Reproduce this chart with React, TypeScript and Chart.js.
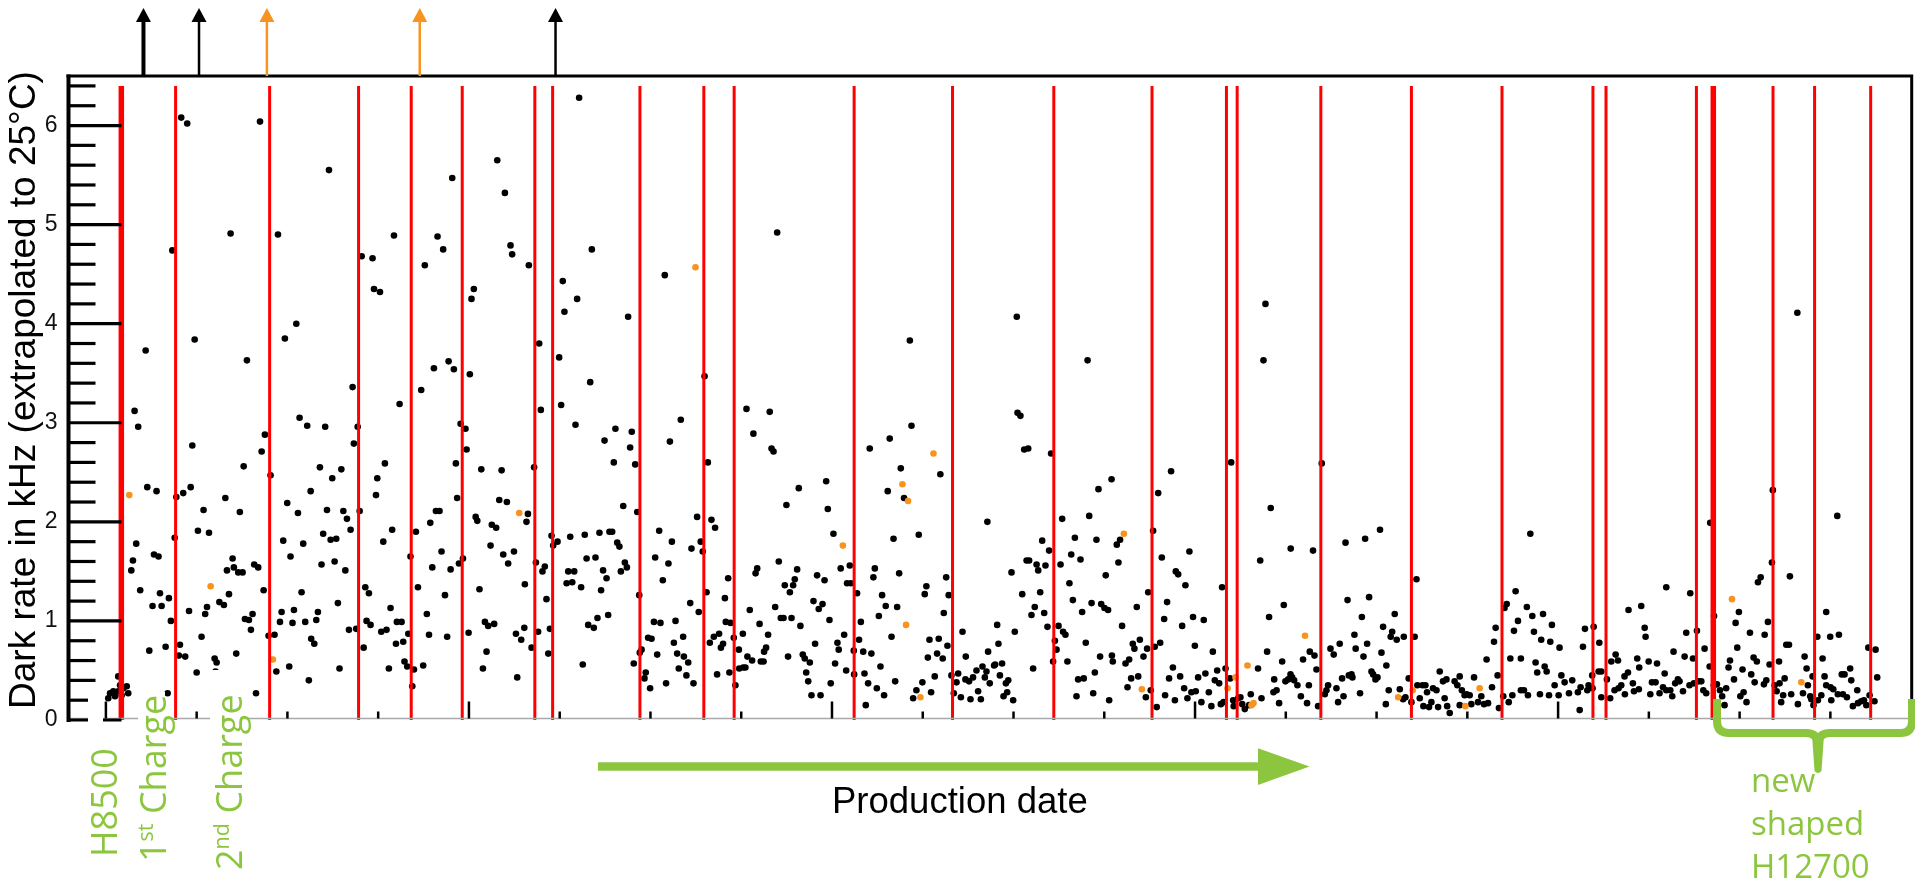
import { useEffect, useRef } from 'react';
import { Chart, registerables } from 'chart.js';

Chart.register(...registerables);

// ---------- data (x: production order index, y: dark rate in kHz) ----------
const BLACK_POINTS: [number, number][] = [
  [41.5,6.08],[44.8,6.02],[84.9,6.04],[122.9,5.55],[215.6,5.65],[219.8,5.32],[190.8,5.47],[68.7,4.91],[94.8,4.90],[158.7,4.89],[182.7,4.88],[185.8,4.75],[36.6,4.74],[140.9,4.68],[146.9,4.66],[175.7,4.59],[222.9,4.79],[223.8,4.70],[233.0,4.59],[147.7,4.35],[151.0,4.32],[202.7,4.35],[201.4,4.25],[104.9,4.00],[98.6,3.85],[48.9,3.84],[21.9,3.73],[77.7,3.63],[188.8,3.62],[191.7,3.54],[180.7,3.55],[200.5,3.49],[135.9,3.36],[173.7,3.33],[161.8,3.19],[15.8,3.12],[17.8,2.96],[106.7,3.05],[110.9,2.97],[120.8,2.96],[138.7,2.96],[195.4,2.99],[198.1,2.94],[87.6,2.88],[136.6,2.79],[47.6,2.77],[85.8,2.71],[198.7,2.73],[75.9,2.56],[117.9,2.55],[129.7,2.53],[153.7,2.59],[192.8,2.59],[90.7,2.47],[124.7,2.44],[149.5,2.44],[206.8,2.53],[218.0,2.52],
  [22.8,2.35],[27.9,2.31],[38.8,2.25],[42.6,2.29],[46.7,2.35],[65.8,2.24],[112.8,2.31],[148.8,2.27],[193.5,2.24],[216.7,2.22],[220.9,2.20],[53.8,2.12],[73.8,2.10],[99.9,2.19],[105.8,2.09],[121.8,2.12],[130.8,2.11],[132.8,2.03],[139.8,2.11],[181.8,2.11],[183.8,2.11],[203.7,2.05],[204.6,2.01],[232.5,2.08],[231.7,2.00],
  [50.7,1.91],[56.8,1.89],[134.8,1.92],[157.7,1.92],[170.8,1.90],[178.7,1.99],[212.6,1.97],[215.0,1.94],[16.7,1.78],[37.9,1.84],[97.7,1.81],[108.7,1.78],[119.7,1.88],[123.8,1.82],[126.9,1.83],[152.8,1.80],[211.9,1.76],
  [14.9,1.61],[26.5,1.67],[29.0,1.65],[69.8,1.63],[101.7,1.65],[126.0,1.60],[184.9,1.70],[167.8,1.65],[196.7,1.63],[218.9,1.67],[224.8,1.70],[221.6,1.58],[14.0,1.51],[66.7,1.51],[70.5,1.54],[72.9,1.49],[75.3,1.49],[81.7,1.57],[83.9,1.54],[118.8,1.57],[131.9,1.51],[179.8,1.54],[189.9,1.52],[194.5,1.58],
  [18.9,1.31],[29.8,1.28],[34.7,1.23],[25.7,1.15],[30.7,1.15],[62.5,1.19],[65.0,1.16],[67.8,1.27],[86.9,1.31],[107.8,1.29],[127.8,1.18],[142.9,1.34],[144.9,1.28],[171.9,1.34],[186.8,1.26],[205.8,1.32],[230.8,1.37],
  [45.8,1.10],[55.7,1.14],[54.7,1.07],[35.8,1.00],[76.6,1.02],[78.8,1.01],[80.8,1.07],[96.8,1.09],[95.9,0.99],[103.6,1.11],[102.8,0.98],[109.8,0.99],[115.9,1.01],[116.8,1.09],[143.6,1.00],[145.8,0.96],[156.8,1.13],[160.3,0.99],[162.9,0.99],[176.8,1.07],[208.8,0.99],[210.6,0.95],[213.9,0.97],
  [23.9,0.70],[32.9,0.74],[40.8,0.76],[40.2,0.65],[43.7,0.64],[52.7,0.84],[79.9,0.91],[89.6,0.85],[92.9,0.86],[113.1,0.82],[114.8,0.77],[133.9,0.91],[137.9,0.92],[151.7,0.89],[154.6,0.91],[159.8,0.77],[163.8,0.79],[166.6,0.87],[178.0,0.86],[188.0,0.84],[199.8,0.88],[225.9,0.87],[228.8,0.81],[230.5,0.93],[142.0,0.73],[209.7,0.69],
  [50.0,0.48],[59.9,0.62],[61.0,0.58],[71.8,0.67],[93.9,0.49],[101.0,0.54],[111.8,0.40],[128.7,0.52],[155.9,0.52],[164.5,0.59],[166.0,0.54],[169.7,0.51],[174.8,0.55],[207.7,0.52],[226.6,0.43],[168.8,0.34],[34.0,0.27],[82.7,0.27],[60.4,0.49],
  [6.8,0.44],[2.3,0.27],[4.1,0.29],[6.8,0.29],[9.6,0.32],[11.5,0.34],[12.3,0.27],[8.7,0.25],[1.3,0.22],[5.0,0.24],[7.8,0.35],
  [260.7,6.28],[238.7,3.80],[239.6,3.13],[235.9,2.55],[267.7,4.75],[251.7,4.43],[259.6,4.25],[252.6,4.12],[287.7,4.07],[249.7,3.66],[266.8,3.41],[250.8,3.18],[258.7,2.98],[280.7,2.94],[274.7,2.82],[289.7,2.91],[288.8,2.75],[279.8,2.60],[291.6,2.58],[307.9,4.49],[316.7,3.03],[310.7,2.81],[329.8,3.47],[331.6,2.60],[369.8,4.92],[442.9,3.83],[352.9,3.14],[365.7,3.11],[356.7,2.89],[366.7,2.74],[367.8,2.71],[443.8,2.97],[431.8,2.84],[420.8,2.74],[437.9,2.54],[459.7,2.48],[396.8,2.41],[381.7,2.34],[430.7,2.31],[439.7,2.24],[374.9,2.17],[397.7,2.13],[485.6,2.00],[400.8,1.88],[433.9,1.83],[447.8,1.87],
  [285.0,2.16],[292.7,2.10],[304.8,1.91],[311.8,1.80],[325.7,2.05],[333.6,2.02],[335.6,1.94],[327.7,1.80],[322.6,1.73],[328.8,1.70],
  [245.5,1.86],[248.8,1.80],[246.4,1.76],[255.8,1.85],[263.8,1.87],[271.9,1.89],[277.4,1.90],[278.9,1.90],[281.7,1.79],[282.9,1.75],[236.9,1.59],[241.8,1.55],[240.5,1.50],[264.8,1.63],[269.7,1.64],[273.9,1.51],[275.8,1.43],[254.7,1.50],[258.0,1.50],[253.8,1.38],[256.9,1.39],[261.8,1.34],[272.8,1.31],[285.9,1.59],[287.0,1.54],[283.7,1.50],[242.7,1.22],[302.6,1.64],[309.9,1.58],[306.8,1.41],[293.8,1.26],[321.9,1.18],[326.6,1.09],[330.9,1.29],[341.0,1.23],[342.8,1.43],[370.7,1.60],[358.8,1.53],[357.9,1.48],[380.8,1.52],[379.5,1.42],[374.0,1.36],[378.6,1.36],[376.8,1.29],[391.8,1.46],[395.9,1.41],[404.8,1.53],[409.8,1.56],[408.3,1.38],[410.4,1.38],[423.6,1.53],[422.8,1.44],[437.0,1.48],[413.8,1.28],[427.6,1.26],[429.6,1.15],[435.9,1.14],[452.0,1.35],[451.1,1.27],[462.9,1.44],[464.3,1.26],[461.6,1.08],[389.8,1.20],[394.8,1.17],[392.7,1.12],[368.7,1.14],[354.7,1.11],[371.8,1.03],[373.3,1.03],[377.7,1.03],[382.6,0.95],[398.6,1.01],
  [265.7,0.96],[268.8,0.93],[270.8,1.03],[276.7,1.06],[238.1,0.89],[244.6,0.92],[234.5,0.73],[243.7,0.67],[262.7,0.56],[290.8,0.57],[295.1,0.71],[294.1,0.68],[301.9,0.99],[305.5,0.98],[313.8,1.00],[298.7,0.83],[300.6,0.82],[303.7,0.66],[312.9,0.78],[318.0,0.84],[314.7,0.67],[318.4,0.64],[320.8,0.58],[315.6,0.52],[319.8,0.45],[323.7,0.37],[308.6,0.37],[299.8,0.32],[297.4,0.48],[296.7,0.42],[332.7,0.78],[334.9,0.84],[337.8,0.87],[338.8,0.73],[340.0,0.77],[341.5,0.99],[344.1,0.98],[345.9,0.83],[336.7,0.46],[343.5,0.48],[346.8,0.35],[348.7,0.71],[350.9,0.87],[348.9,0.52],[351.1,0.53],[352.3,0.53],[353.4,0.64],[356.0,0.60],[360.1,0.97],[360.8,0.59],[362.3,0.59],[362.6,0.69],[363.7,0.73],[364.8,0.86],[375.8,0.64],[383.9,0.66],[385.0,0.62],[387.8,0.58],[385.8,0.48],[386.9,0.39],[390.7,0.77],[388.7,0.25],[393.7,0.25],[399.3,0.37],[401.7,0.57],[403.0,0.78],[403.7,0.71],[406.7,0.86],[407.8,0.50],[412.0,0.70],[412.2,0.46],[414.9,0.81],[415.9,0.99],[417.2,0.69],[417.9,0.47],[419.9,0.37],[421.7,0.67],[424.7,0.32],[426.7,0.54],[428.7,0.25],[425.8,1.05],[432.8,0.84],[434.8,0.39],[444.7,0.22],[446.5,0.30],[449.8,0.38],[452.8,0.63],[453.7,0.81],[454.6,0.28],[456.6,0.44],[457.9,0.67],[458.8,0.82],[461.0,0.62],[463.6,0.75],[465.8,0.45],[467.1,0.27],[468.6,0.38],[469.5,0.47],[471.0,0.23],[471.9,0.89],[473.7,0.64],[473.5,0.41],[475.5,0.39],[477.7,0.43],[479.6,0.50],[480.5,0.29],[476.3,0.21],[482.0,0.21],[482.9,0.54],[484.2,0.43],[486.0,0.69],[486.9,0.37],[418.6,0.15],
  [501.8,4.07],[540.8,3.63],[502.2,3.10],[503.8,3.07],[505.9,2.73],[508.1,2.74],[520.7,2.69],[619.9,2.60],[586.8,2.51],[669.8,2.59],[638.8,4.20],[637.7,3.63],[641.7,2.14],[526.8,2.03],[546.8,2.33],[554.0,2.43],[541.7,2.06],[579.7,2.29],[576.9,1.91],[558.7,1.82],[556.9,1.77],[557.8,1.59],[545.7,1.82],[533.8,1.84],[515.8,1.81],[519.6,1.71],[531.8,1.67],[536.9,1.62],[525.9,1.57],[517.6,1.56],[512.7,1.57],[513.6,1.51],[507.2,1.61],[508.6,1.61],[498.9,1.49],[550.8,1.46],[581.7,1.64],[596.9,1.70],[589.4,1.50],[590.7,1.47],[594.7,1.36],[614.9,1.34],[652.7,1.73],[665.0,1.71],[682.9,1.79],[693.7,1.83],[701.9,1.92],[635.9,1.61],[722.0,1.42],[530.8,1.38],[504.8,1.27],[514.7,1.29],[532.7,1.21],[537.8,1.09],[543.0,1.18],[548.3,1.17],[550.1,1.13],[552.1,1.11],[574.2,1.29],[584.6,1.19],[567.9,1.14],[511.7,1.14],[516.9,1.08],[509.9,1.06],[518.7,0.94],[524.8,0.95],[527.3,0.89],[528.6,0.86],[491.0,0.96],[500.7,0.89],[559.8,0.95],[583.0,1.02],[592.9,0.95],[598.9,1.04],[604.8,1.01],[640.8,1.04],[648.9,1.16],[684.0,1.21],[695.9,1.24],[691.9,1.04],[710.0,1.07],[703.6,0.94],[708.6,0.89],[707.8,0.84],[711.1,0.81],[715.0,0.84],[721.0,0.84],[687.8,0.86],[679.7,0.77],[674.6,0.72],[676.4,0.66],[688.5,0.72],[694.8,0.77],[692.8,0.64],[702.7,0.68],[663.2,0.69],[665.8,0.65],[659.5,0.61],[648.0,0.59],[639.7,0.69],[609.8,0.69],[599.9,0.75],[580.8,0.78],[577.8,0.74],[573.6,0.72],[571.6,0.64],[565.7,0.77],[566.6,0.72],[569.6,0.81],[563.7,0.61],[561.7,0.57],[554.7,0.59],[554.2,0.65],[547.7,0.64],[539.8,0.78],[529.7,0.59],[523.7,0.71],[522.8,0.80],[521.8,0.59],[491.7,0.77],[489.3,0.55],[493.7,0.57],[489.9,0.56],[485.1,0.49],[492.5,0.45],[497.1,0.40],[495.8,0.37],[496.5,0.28],[494.5,0.24],[499.8,0.20],[510.8,0.52],[544.8,0.48],[535.6,0.41],[538.7,0.42],[534.7,0.24],[543.9,0.27],[552.7,0.20],[562.8,0.33],[564.8,0.42],[568.7,0.44],[572.9,0.23],[575.6,0.30],[578.9,0.13],[583.5,0.25],[585.7,0.42],[587.8,0.53],[588.9,0.20],[591.8,0.44],[594.0,0.32],[595.8,0.22],[598.0,0.28],[600.4,0.29],[601.7,0.43],[603.5,0.18],[605.7,0.47],[607.6,0.28],[609.0,0.14],[610.9,0.40],[612.2,0.50],[613.3,0.37],[614.2,0.16],[615.7,0.18],[616.8,0.52],[619.3,0.42],[621.0,0.20],[621.3,0.14],[623.7,0.22],[625.0,0.23],[626.0,0.16],[627.4,0.11],[629.8,0.15],[630.7,0.26],[634.7,0.52],[636.6,0.22],[643.6,0.41],[643.2,0.28],[644.9,0.30],[646.3,0.17],[651.3,0.41],[649.8,0.39],[652.6,0.46],[653.5,0.43],[654.6,0.40],[656.4,0.35],[658.3,0.24],[661.7,0.17],[662.7,0.35],[666.9,0.51],[667.8,0.14],[671.5,0.26],[673.3,0.35],[672.4,0.30],[677.9,0.32],[678.8,0.18],[681.0,0.42],[681.8,0.24],[684.7,0.45],[686.7,0.43],[686.2,0.46],[690.9,0.27],[698.1,0.46],[697.2,0.49],[699.4,0.41],[700.5,0.43],[705.4,0.55],[706.7,0.30],[705.1,0.16],[712.8,0.31],[714.6,0.21],[715.9,0.23],[717.7,0.42],[719.2,0.18],[722.5,0.35],[725.3,0.35],[726.9,0.35],[723.8,0.22],[727.8,0.28],[730.2,0.18],[731.1,0.32],[733.0,0.30],[725.8,0.14],[728.9,0.13],[733.9,0.13],[734.8,0.49],[736.6,0.39],[738.5,0.41],[738.9,0.14],
  [931.8,4.11],[784.7,1.88],[953.8,2.06],[918.3,2.32],[883.8,1.99],[917.8,1.59],[927.7,1.45],[910.1,1.39],[911.6,1.44],[859.6,1.34],[872.8,1.28],[845.8,1.15],[838.8,1.11],[776.6,1.30],[771.7,1.17],[770.5,1.13],[782.8,1.14],[785.8,1.05],[791.7,1.07],[796.6,0.96],[777.9,1.00],[775.7,0.90],[786.7,0.89],[790.7,0.81],[795.7,0.79],[800.8,0.73],[765.6,0.93],[764.7,0.79],[760.6,0.61],[773.7,0.62],[779.5,0.62],[787.6,0.58],[792.6,0.54],[793.7,0.49],[788.5,0.48],[814.8,0.92],[819.6,0.94],[813.7,0.74],[822.7,0.78],[899.6,1.09],[897.8,0.98],[915.6,0.99],[913.8,0.86],[905.7,0.88],[898.7,0.73],[894.7,0.60],[893.9,0.53],[901.6,0.51],[906.4,0.46],[907.7,0.63],[909.5,0.59],[914.7,0.40],[921.7,0.59],[916.5,0.56],[924.8,0.42],[925.7,0.76],[927.2,0.76],[947.7,1.09],[942.8,0.84],[949.9,0.84],[954.7,0.86],[945.7,0.62],[935.8,0.64],[936.9,0.52],[940.2,0.44],[946.8,0.44],[956.3,0.46],[957.8,0.46],[960.9,0.52],[961.5,0.40],[970.9,0.73],[974.9,0.71],[975.8,0.43],[870.6,0.88],[876.5,0.90],[880.7,0.72],[869.7,0.64],[874.3,0.62],[883.5,0.54],[885.9,1.05],[863.6,0.69],[858.7,0.47],[849.9,0.59],[854.5,0.57],[847.7,0.93],[848.2,0.84],[843.6,0.62],[844.7,0.53],[838.5,0.48],[836.6,0.44],[834.8,0.35],[831.7,0.66],[833.0,0.60],[829.3,0.59],[826.9,0.41],[822.3,0.49],[823.8,0.49],[818.8,0.45],[816.8,0.35],[812.4,0.33],[807.8,0.40],[803.6,0.38],[801.8,0.45],[798.1,0.35],[806.0,0.27],[800.3,0.25],[795.0,0.25],[790.0,0.26],[783.4,0.25],[781.2,0.30],[779.5,0.30],[774.8,0.25],[772.8,0.18],[769.8,0.24],[763.6,0.33],[766.7,0.45],[767.4,0.12],[761.4,0.17],[759.2,0.16],[755.9,0.18],[753.7,0.43],[749.6,0.26],[745.8,0.44],[744.5,0.35],[743.0,0.39],[737.5,0.22],[747.0,0.30],[748.5,0.25],[751.3,0.25],[752.2,0.16],[757.7,0.24],[745.8,0.15],[740.3,0.07],[810.9,0.28],[811.9,0.10],[816.1,0.30],[819.0,0.32],[823.8,0.23],[828.7,0.22],[831.1,0.30],[833.3,0.32],[836.8,0.26],[841.8,0.29],[841.2,0.37],[844.5,0.31],[850.8,0.26],[851.7,0.38],[853.7,0.38],[855.9,0.27],[857.8,0.33],[859.6,0.30],[861.8,0.30],[862.9,0.24],[864.5,0.37],[866.0,0.41],[866.9,0.39],[868.8,0.29],[872.4,0.35],[874.8,0.37],[877.4,0.39],[878.9,0.39],[880.0,0.30],[881.6,0.27],[885.8,0.35],[887.5,0.36],[889.2,0.30],[890.4,0.24],[891.7,0.15],[892.6,0.32],[896.9,0.41],[900.4,0.24],[902.2,0.28],[903.8,0.18],[908.3,0.38],[913.4,0.36],[919.3,0.35],[920.4,0.29],[922.9,0.18],[924.0,0.25],[928.4,0.26],[932.1,0.16],[934.9,0.27],[937.6,0.35],[938.9,0.24],[940.7,0.15],[943.1,0.20],[945.0,0.25],[947.7,0.35],[950.1,0.33],[951.6,0.31],[950.5,0.20],[954.1,0.26],[956.9,0.26],[959.1,0.23],[962.4,0.14],[964.8,0.30],[965.2,0.17],[967.0,0.19],[968.5,0.20],[969.8,0.15],[971.6,0.25],[974.3,0.19],[922.0,0.37],[939.5,0.21],
];

const ORANGE_POINTS: [number, number][] = [
  [12.9,2.27],[227.7,2.09],[57.7,1.35],[92.0,0.61],[324.8,4.57],[455.9,2.69],[438.8,2.38],[441.9,2.21],[406.0,1.76],[440.8,0.96],[448.7,0.23],[560.8,1.88],[660.6,0.85],[570.7,0.31],[617.9,0.32],[622.3,0.43],[628.9,0.55],[631.1,0.15],[632.2,0.17],[711.9,0.23],[719.9,0.30],[895.8,1.22],[934.0,0.38],[756.8,0.32],[748.9,0.14],
];

// batch boundaries (red lines)
const BATCH_X = [38.4,90.2,139.2,168.2,196.3,236.3,246.1,294.2,329.4,346.1,412.2,466.4,522.2,576.3,617.3,623.2,669.3,719.2,769.1,819.2,826.4,876.2,918.4,941.3,972.2];
const MAJOR_BATCH_X = [8.5, 885.5];
const BATCH_TOP = 6.4;

// off-scale values (arrows above the frame)
const OFFSCALE_BLACK_X = [20.7, 51.3, 247.7];
const OFFSCALE_ORANGE_X = [88.7, 172.9];

const X_MIN = -20.6;
const X_MAX = 994.8;
const Y_MIN = 0;
const Y_MAX = 6.5;
const Y_MINOR_STEP = 0.2;
const X_MINOR_STEP = 50;
const X_MAJOR_STEP = 200;

const Y_TITLE = 'Dark rate in kHz (extrapolated to 25°C)';
const X_TITLE = 'Production date';
const BOTTOM_RIGHT_LINES = ['new', 'shaped', 'H12700'];

const GREEN = '#8CC63F';
const ORANGE = '#F7931E';
const RED = '#ff0000';

function vertLabel(ctx: CanvasRenderingContext2D, x: number, y: number, parts: { t: string; sup?: boolean }[], size: number) {
  ctx.save();
  ctx.translate(x, y);
  ctx.rotate(-Math.PI / 2);
  ctx.textAlign = 'left';
  ctx.textBaseline = 'alphabetic';
  let cx = 0;
  for (const p of parts) {
    const s = p.sup ? size * 0.6 : size;
    ctx.font = `${s}px "Open Sans"`;
    ctx.fillText(p.t, cx, p.sup ? -size * 0.36 : 0);
    cx += ctx.measureText(p.t).width;
  }
  ctx.restore();
}

const decorPlugin = {
  id: 'decor',
  afterDraw(chart: any) {
    const { ctx, chartArea: a, scales } = chart;
    const xs = scales.x;
    const ys = scales.y;
    const y0 = ys.getPixelForValue(0);
    ctx.save();

    // bottom axis (grey)
    ctx.strokeStyle = '#a9a9a9';
    ctx.lineWidth = 1.5;
    ctx.beginPath();
    ctx.moveTo(a.left, y0 - 1.5);
    ctx.lineTo(a.right, y0 - 1.5);
    ctx.stroke();

    // x ticks (inward)
    ctx.strokeStyle = '#000';
    ctx.lineWidth = 2.5;
    for (let v = 0; v <= X_MAX; v += X_MINOR_STEP) {
      const px = xs.getPixelForValue(v);
      const len = v % X_MAJOR_STEP === 0 ? 17 : 7;
      ctx.beginPath();
      ctx.moveTo(px, y0 - 1.5);
      ctx.lineTo(px, y0 - 1.5 - len);
      ctx.stroke();
    }

    // y ticks (inward)
    ctx.lineWidth = 3.2;
    const n = Math.round((Y_MAX - 0.1) / Y_MINOR_STEP);
    for (let i = 0; i <= n; i++) {
      const v = i * Y_MINOR_STEP;
      const py = ys.getPixelForValue(v);
      const major = i % 5 === 0;
      ctx.beginPath();
      ctx.moveTo(a.left, py);
      ctx.lineTo(a.left + (major ? 53 : 27), py);
      ctx.stroke();
    }

    // white label boxes covering the bottom of the frame
    ctx.fillStyle = '#fff';
    ctx.fillRect(88, 697, 15, 30);
    ctx.fillRect(138, 692, 27, 35);
    ctx.fillRect(210, 670, 34, 57);

    // frame
    ctx.strokeStyle = '#000';
    ctx.lineWidth = 4;
    ctx.beginPath();
    ctx.moveTo(a.left, a.top - 1.5);
    ctx.lineTo(a.left, y0 + 2);
    ctx.stroke();
    ctx.lineWidth = 3;
    ctx.beginPath();
    ctx.moveTo(a.left - 2, a.top);
    ctx.lineTo(a.right + 1.5, a.top);
    ctx.moveTo(a.right, a.top);
    ctx.lineTo(a.right, y0);
    ctx.stroke();

    // off-scale arrows
    const arrow = (v: number, color: string, w: number) => {
      const px = xs.getPixelForValue(v);
      ctx.strokeStyle = color;
      ctx.fillStyle = color;
      ctx.lineWidth = w;
      ctx.beginPath();
      ctx.moveTo(px, a.top);
      ctx.lineTo(px, 20);
      ctx.stroke();
      ctx.beginPath();
      ctx.moveTo(px, 8);
      ctx.lineTo(px - 7.5, 22);
      ctx.lineTo(px + 7.5, 22);
      ctx.closePath();
      ctx.fill();
    };
    OFFSCALE_BLACK_X.forEach((v, i) => arrow(v, '#000', i === 0 ? 4 : 2.5));
    OFFSCALE_ORANGE_X.forEach((v) => arrow(v, ORANGE, 2.5));

    // y title
    ctx.save();
    ctx.translate(35, 390);
    ctx.rotate(-Math.PI / 2);
    ctx.fillStyle = '#000';
    ctx.font = '37px "Liberation Sans", Arial, sans-serif';
    ctx.textAlign = 'center';
    ctx.textBaseline = 'alphabetic';
    ctx.fillText(Y_TITLE, 0, 0);
    ctx.restore();

    // x title
    ctx.fillStyle = '#000';
    ctx.font = '36.5px "Liberation Sans", Arial, sans-serif';
    ctx.textAlign = 'left';
    ctx.textBaseline = 'alphabetic';
    ctx.fillText(X_TITLE, 832, 813);

    // green production-date arrow
    ctx.strokeStyle = GREEN;
    ctx.fillStyle = GREEN;
    ctx.lineWidth = 8.4;
    ctx.beginPath();
    ctx.moveTo(598, 766.5);
    ctx.lineTo(1260, 766.5);
    ctx.stroke();
    ctx.beginPath();
    ctx.moveTo(1258, 748.3);
    ctx.lineTo(1309.5, 766.5);
    ctx.lineTo(1258, 785);
    ctx.closePath();
    ctx.fill();

    // green labels at the left
    ctx.fillStyle = GREEN;
    vertLabel(ctx, 117, 857, [{ t: 'H8500' }], 36);
    vertLabel(ctx, 166, 862, [{ t: '1' }, { t: 'st', sup: true }, { t: ' Charge' }], 36);
    vertLabel(ctx, 242, 870, [{ t: '2' }, { t: 'nd', sup: true }, { t: ' Charge' }], 36);

    // brace for new shaped H12700
    ctx.strokeStyle = GREEN;
    ctx.lineWidth = 8;
    ctx.lineJoin = 'round';
    ctx.lineCap = 'butt';
    ctx.beginPath();
    ctx.moveTo(1717, 699);
    ctx.lineTo(1717, 721);
    ctx.quadraticCurveTo(1717, 733, 1729, 733);
    ctx.lineTo(1806, 733);
    ctx.quadraticCurveTo(1818, 733, 1818, 745);
    ctx.moveTo(1818, 745);
    ctx.quadraticCurveTo(1818, 733, 1830, 733);
    ctx.lineTo(1901, 733);
    ctx.quadraticCurveTo(1912, 733, 1912, 721);
    ctx.lineTo(1912, 699);
    ctx.stroke();
    ctx.beginPath();
    ctx.moveTo(1812, 735);
    ctx.lineTo(1824, 735);
    ctx.lineTo(1821.5, 771);
    ctx.quadraticCurveTo(1818, 775, 1814.5, 771);
    ctx.closePath();
    ctx.fill();

    ctx.fillStyle = GREEN;
    ctx.font = '33px "Open Sans"';
    ctx.textAlign = 'left';
    BOTTOM_RIGHT_LINES.forEach((t, i) => ctx.fillText(t, 1751, 791.7 + i * 43.3));

    ctx.restore();
  },
};

export default function App() {
  const ref = useRef<HTMLCanvasElement>(null);

  useEffect(() => {
    const canvas = ref.current;
    if (!canvas) return;

    const lineDs = (xv: number, w: number) => ({
      type: 'line' as const,
      data: [{ x: xv, y: Y_MIN }, { x: xv, y: BATCH_TOP }],
      borderColor: RED,
      borderWidth: w,
      pointRadius: 0,
      showLine: true,
      fill: false,
      order: 0,
    });

    const datasets: any[] = [
      ...BATCH_X.map((v) => lineDs(v, 3)),
      ...MAJOR_BATCH_X.map((v) => lineDs(v, 5.5)),
      {
        type: 'scatter',
        data: ORANGE_POINTS.map(([x, y]) => ({ x, y })),
        backgroundColor: ORANGE,
        borderWidth: 0,
        pointRadius: 3.3,
        pointHoverRadius: 3.3,
        order: 1,
      },
      {
        type: 'scatter',
        data: BLACK_POINTS.map(([x, y]) => ({ x, y })),
        backgroundColor: '#000',
        borderWidth: 0,
        pointRadius: 3.3,
        pointHoverRadius: 3.3,
        order: 2,
      },
    ];

    const chart = new Chart(canvas, {
      type: 'scatter',
      data: { datasets },
      options: {
        responsive: false,
        animation: false,
        devicePixelRatio: 1,
        events: [],
        layout: { padding: { left: 0, top: 76, right: 3, bottom: 161 } },
        plugins: { legend: { display: false }, tooltip: { enabled: false } },
        scales: {
          x: { type: 'linear', min: X_MIN, max: X_MAX, display: false },
          y: {
            type: 'linear',
            min: Y_MIN,
            max: Y_MAX,
            afterFit: (s: any) => { s.width = 68.5; },
            grid: { display: false, drawTicks: false },
            border: { display: false },
            ticks: {
              stepSize: 1,
              includeBounds: false,
              padding: 11,
              color: '#111',
              font: { family: '"Liberation Sans", Arial, sans-serif', size: 23 },
              callback: (v: any) => (Number.isInteger(v) ? String(v) : ''),
            },
          },
        },
      },
      plugins: [decorPlugin],
    } as any);

    return () => chart.destroy();
  }, []);

  return (
    <div style={{ position: 'absolute', left: 0, top: 0, width: 1915, height: 881, background: '#fff' }}>
      <canvas ref={ref} width={1915} height={881} style={{ display: 'block', width: 1915, height: 881 }} />
    </div>
  );
}
